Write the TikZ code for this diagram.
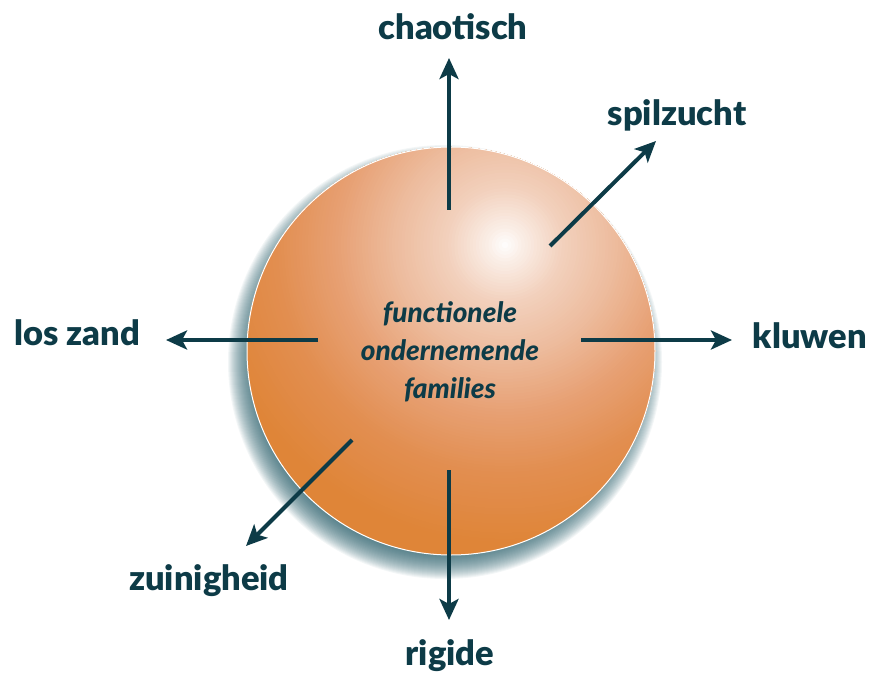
\documentclass[tikz,border=0pt]{standalone}
\usepackage{fontspec}
\setmainfont{Lato}[BoldFont={Lato Black},BoldItalicFont={Lato Black Italic}]
\usetikzlibrary{arrows.meta}
\definecolor{ink}{HTML}{0D3B47}
\definecolor{shad}{HTML}{2A5F6B}
\definecolor{oA}{HTML}{FAEDE5}
\definecolor{oB}{HTML}{F2D0BC}
\definecolor{oC}{HTML}{EDBC9E}
\definecolor{oD}{HTML}{E7A073}
\definecolor{oE}{HTML}{E28E50}
\definecolor{oF}{HTML}{DF8538}
\tikzset{
  lbl/.style={font=\bfseries\fontsize{34.5}{38}\selectfont, text=ink, inner sep=0pt},
  arr/.style={draw=ink, line width=4pt, -{Stealth[length=21pt,width=19pt,inset=5pt]}},
  ctr/.style={font=\bfseries\itshape\fontsize{28}{38}\selectfont, text=ink, align=center, inner sep=0pt}
}
\begin{document}
\begin{tikzpicture}[x=1pt,y=-1pt]
\useasboundingbox (0,0) rectangle (869,676);
% shadow
\foreach \k in {0,...,26}{
  \fill[shad, opacity=0.055] (445,362) circle[radius={(191+\k)*1pt}];
}
% ball (manual radial gradient)
\begin{scope}
\clip (451,351) circle[radius=204pt];
\fill[oF] (451,351) circle[radius=210pt];
\foreach \ro/\co/\ri/\ci in {300/oF/230/oE, 230/oE/170/oD, 170/oD/110/oC, 110/oC/60/oB, 60/oB/20/oA, 20/oA/0/white}{
  \pgfmathtruncatemacro\nn{(\ro-\ri)/3}
  \foreach \t in {0,...,\nn}{
    \pgfmathsetmacro\rr{\ro-(\ro-\ri)*\t/\nn}
    \pgfmathsetmacro\pp{100*\t/\nn}
    \fill[\ci!\pp!\co] (505,245) circle[radius=\rr pt];
  }
}
\end{scope}
\draw[white, line width=1pt] (451,351) circle[radius=204pt];
% center text
\node[ctr] (c) at (450,352) {functionele\\ondernemende\\families};
% labels
\node[lbl] (chaotisch) at (453,27) {chaotisch};
\node[lbl] (spilzucht) at (677,115) {spilzucht};
\node[lbl] (kluwen) at (810,336) {kluwen};
\node[lbl] (loszand) at (77,333) {los zand};
\node[lbl] (zuinigheid) at (209,581) {zuinigheid};
\node[lbl] (rigide) at (450,656) {rigide};
% arrow coordinates
\coordinate (u0) at (449,210); \coordinate (u1) at (449,58);
\coordinate (s0) at (550,246); \coordinate (s1) at (656,141);
\coordinate (k0) at (581,340); \coordinate (k1) at (732,340);
\coordinate (l0) at (318,340); \coordinate (l1) at (166,340);
\coordinate (z0) at (352,440); \coordinate (z1) at (246,546);
\coordinate (r0) at (449,470); \coordinate (r1) at (449,620);
\draw[arr] (u0) -- (u1);
\draw[arr] (s0) -- (s1);
\draw[arr] (k0) -- (k1);
\draw[arr] (l0) -- (l1);
\draw[arr] (z0) -- (z1);
\draw[arr] (r0) -- (r1);
\end{tikzpicture}
\end{document}
